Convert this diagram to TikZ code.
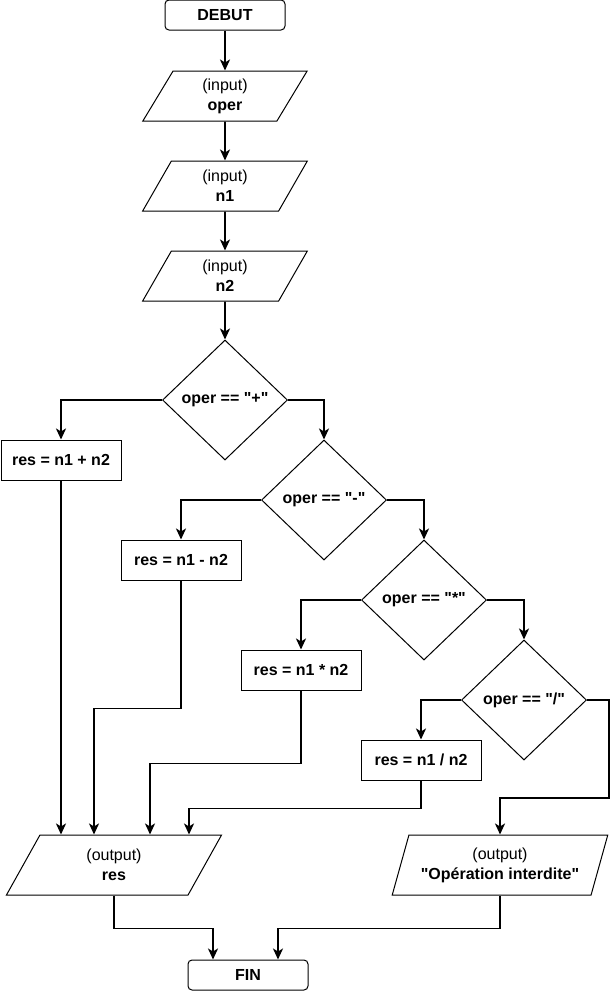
\documentclass[tikz,border=0pt]{standalone}
\usepackage{fontspec}
\setmainfont{Liberation Sans}[Ligatures = TeXOff]
\usetikzlibrary{arrows.meta}
\usetikzlibrary{positioning}
\usetikzlibrary{calc}
\usetikzlibrary{shapes.geometric}

\tikzset{
  terminal/.style = {draw, rounded corners = 4pt, line width = 1pt, minimum width = 120pt, minimum height = 30pt, font = \fontsize{16}{20}\selectfont\bfseries},
  inout/.style = {draw, trapezium, trapezium left angle = 70, trapezium right angle = 110, trapezium stretches = true, line width = 1pt, minimum width = 165pt, minimum height = 50pt, align = center, font = \fontsize{16}{20}\selectfont},
  process/.style = {draw, rectangle, line width = 1pt, minimum width = 120pt, minimum height = 40pt, font = \fontsize{16}{20}\selectfont\bfseries},
  decision/.style = {draw, diamond, aspect = 1, inner sep = 1pt, line width = 1pt, minimum width = 125pt, minimum height = 120pt, font = \fontsize{16}{20}\selectfont\bfseries},
  flow/.style = {line width = 1.8pt, -{Stealth[length = 11pt, width = 10pt, inset = 3pt]}}
}

\begin{document}
\begin{tikzpicture}[x = 1pt, y = -1pt]

        \useasboundingbox (0,0) rectangle (616,991);

        % start and inputs
        \node[terminal] (debut) at (225,15) {DEBUT};
        \node[inout] (in_oper) at (225,96) {(input)\\\textbf{oper}};
        \node[inout] (in_n1) at (225,186) {(input)\\\textbf{n1}};
        \node[inout] (in_n2) at (225,276) {(input)\\\textbf{n2}};

        % the tests
        \node[decision] (dec_plus) at (225,400) {oper == "+"};
        \node[decision] (dec_minus) at (324,500) {oper == "-"};
        \node[decision] (dec_mult) at (424,600) {oper == "*"};
        \node[decision] (dec_div) at (524,700) {oper == "/"};

        % the computations
        \node[process] (res_add) at (61,460) {res = n1 + n2};
        \node[process] (res_sub) at (181,560) {res = n1 - n2};
        \node[process] (res_mul) at (301,670) {res = n1 * n2};
        \node[process] (res_div) at (421,760) {res = n1 / n2};

        % outputs and end
        \node[inout, minimum width = 216pt, minimum height = 60pt] (out_res) at (114,865) {(output)\\\textbf{res}};
        \node[inout, minimum width = 216pt, minimum height = 60pt] (out_err) at (500,865) {(output)\\\textbf{"Opération interdite"}};
        \node[terminal] (fin) at (248,975) {FIN};

        % draw the arrows
        \draw[flow] (debut) -- (in_oper);
        \draw[flow] (in_oper) -- (in_n1);
        \draw[flow] (in_n1) -- (in_n2);
        \draw[flow] (in_n2) -- (dec_plus);

        \draw[flow] (dec_plus.west) -| (res_add.north);
        \draw[flow] (dec_plus.east) -| (dec_minus.north);
        \draw[flow] (dec_minus.west) -| (res_sub.north);
        \draw[flow] (dec_minus.east) -| (dec_mult.north);
        \draw[flow] (dec_mult.west) -| (res_mul.north);
        \draw[flow] (dec_mult.east) -| (dec_div.north);
        \draw[flow] (dec_div.west) -| (res_div.north);
        \draw[flow] (dec_div.east) -- ++(22,0) -- ++(0,98) -| (out_err.north);

        \draw[flow] (res_add.south) -- (res_add.south |- out_res.north);
        \draw[flow] (res_sub.south) -- ++(0,128) -| ($(out_res.north) + (-20,0)$);
        \draw[flow] (res_mul.south) -- ++(0,73) -| ($(out_res.north) + (36,0)$);
        \draw[flow] (res_div.south) -- ++(0,28) -| ($(out_res.north) + (75,0)$);

        \draw[flow] (out_res.south) -- ++(0,33) -| ($(fin.north) + (-35,0)$);
        \draw[flow] (out_err.south) -- ++(0,33) -| ($(fin.north) + (30,0)$);

\end{tikzpicture}
\end{document}
